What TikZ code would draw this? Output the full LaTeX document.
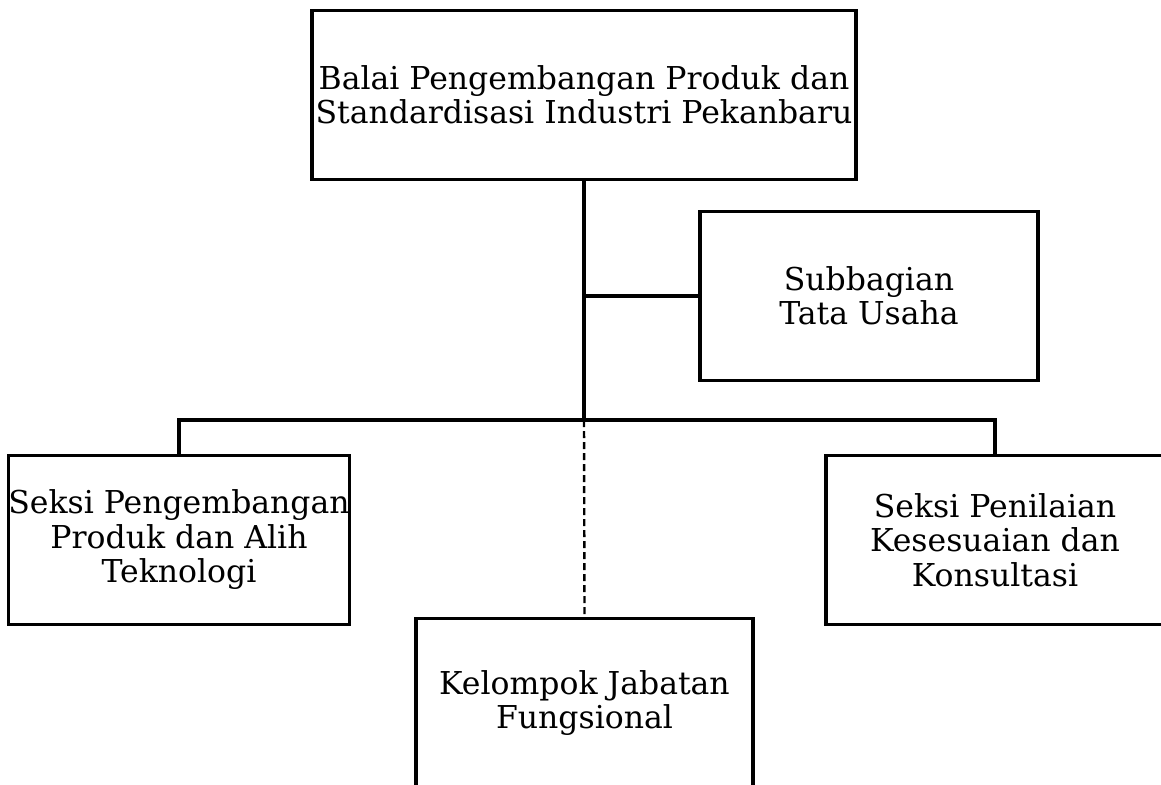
\documentclass[tikz,border=0pt]{standalone}
\usepackage{fontspec}
\setmainfont{DejaVu Serif}
\begin{document}
\begin{tikzpicture}[x=1pt,y=-1pt,
  orgbox/.style={draw,line width=3.2pt,rectangle,inner sep=0pt,align=center,
    font=\fontsize{31.5}{34.5}\selectfont},
  link/.style={line width=3.2pt},
  dlink/.style={line width=2.4pt,dash pattern=on 7pt off 4pt}]
\useasboundingbox (0,0) rectangle (1161,784);
\clip (0,0) rectangle (1161,784);
\node[orgbox,minimum width=544pt,minimum height=169pt] (top) at (584,95) {Balai Pengembangan Produk dan\\Standardisasi Industri Pekanbaru};
\node[orgbox,minimum width=338pt,minimum height=169pt] (sub) at (869,296) {Subbagian\\Tata Usaha};
\node[orgbox,minimum width=338pt,minimum height=169pt] (left) at (179,540) {Seksi Pengembangan\\Produk dan Alih\\Teknologi};
\node[orgbox,minimum width=338pt,minimum height=169pt] (right) at (995,540) {Seksi Penilaian\\Kesesuaian dan\\Konsultasi};
\node[orgbox,minimum width=337pt,minimum height=169pt] (fun) at (584.5,703) {Kelompok Jabatan\\Fungsional};
\coordinate (j) at (584,420);
\coordinate (s) at (584,296);
\draw[link] (top.south) -- (j);
\draw[link] (s) -- (sub.west);
\draw[link] (left.north) |- (j) -| (right.north);
\draw[dlink] (j) -- (fun.north);
\end{tikzpicture}
\end{document}
